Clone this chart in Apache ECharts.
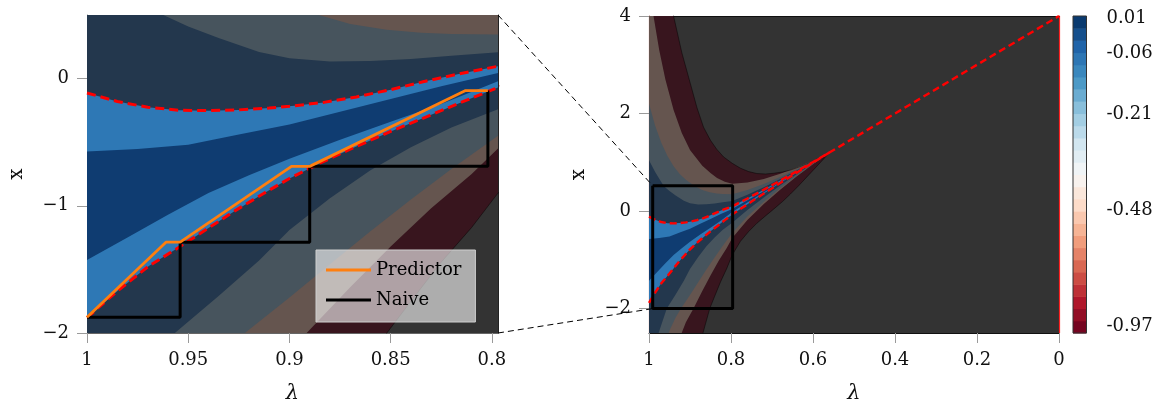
<!DOCTYPE html>
<html><head><meta charset="utf-8">
<script src="https://cdn.jsdelivr.net/npm/echarts@6/dist/echarts.min.js"></script>
<style>html,body{margin:0;padding:0;background:#fff}#c{width:1163px;height:403px}</style>
</head><body><div id="c"></div>
<script>
// ---------- tick labels ----------
const lamTicksLeft = [1, 0.95, 0.9, 0.85, 0.8];
const xTicksLeft = [-2, -1, 0];
const lamTicksRight = [1, 0.8, 0.6, 0.4, 0.2, 0];
const xTicksRight = [-2, 0, 2, 4];
const cbTickLabels = ['0.01', '-0.06', '-0.21', '-0.48', '-0.97'];
const cbTickPos = [25.8, 22.9, 17.9, 10.1, 0.55];
const cbCells = [0,1,2,3,4,5,6,7,8,9,10,11,12,13,14,15,16,17,18,19,20,21,22,23,24,25];

// ---------- contour band boundaries [lambda, x] ----------
const upperRed = [[1,-0.113],[0.985,-0.18],[0.97,-0.225],[0.955,-0.248],[0.94,-0.252],[0.925,-0.246],[0.91,-0.232],[0.9,-0.218],[0.883,-0.187],[0.867,-0.144],[0.85,-0.087],[0.834,-0.025],[0.817,0.035],[0.797,0.097],[0.76,0.257],[0.72,0.439],[0.68,0.625],[0.64,0.814],[0.6,1.006],[0.56,1.2]];
const centreLine = [[0.56,1.2],[0.4,2.0],[0.2,3.0],[0,4.0]];
const lowerRed = [[1,-1.88],[0.985,-1.67],[0.97,-1.48],[0.954,-1.32],[0.94,-1.175],[0.927,-1.04],[0.913,-0.905],[0.9,-0.785],[0.885,-0.665],[0.87,-0.555],[0.85,-0.415],[0.83,-0.285],[0.815,-0.185],[0.797,-0.07],[0.76,0.14],[0.72,0.36],[0.68,0.575],[0.64,0.786],[0.6,0.994],[0.56,1.2]];
const darkUpper = [[1,-0.573],[0.975,-0.553],[0.95,-0.52],[0.925,-0.44],[0.9,-0.36],[0.875,-0.26],[0.85,-0.16],[0.825,-0.06],[0.797,0.045],[0.76,0.221],[0.72,0.414],[0.68,0.609],[0.64,0.805],[0.6,1.002],[0.56,1.2]];
const darkLower = [[1,-1.427],[0.98,-1.25],[0.96,-1.07],[0.94,-0.9],[0.92,-0.76],[0.9,-0.63],[0.875,-0.48],[0.85,-0.34],[0.825,-0.2],[0.797,-0.021],[0.76,0.175],[0.72,0.383],[0.68,0.589],[0.64,0.794],[0.6,0.997],[0.56,1.2]];
const navyUpper = [[1,1.04],[0.985,0.8],[0.972,0.62],[0.963,0.505],[0.95,0.41],[0.935,0.32],[0.915,0.21],[0.9,0.16],[0.88,0.135],[0.86,0.138],[0.84,0.155],[0.82,0.18],[0.797,0.207],[0.76,0.333],[0.72,0.489],[0.68,0.657],[0.64,0.832],[0.6,1.013],[0.56,1.2]];
const navyLower = [[1,-3.3],[0.9766,-2.5],[0.9566,-2.0],[0.935,-1.71],[0.915,-1.43],[0.9,-1.19],[0.88,-0.94],[0.86,-0.72],[0.84,-0.54],[0.82,-0.385],[0.797,-0.24],[0.76,0.021],[0.72,0.28],[0.68,0.523],[0.64,0.757],[0.6,0.982],[0.56,1.2]];
const slateUpper = [[1,2.2],[0.985,1.75],[0.97,1.4],[0.955,1.13],[0.94,0.92],[0.925,0.76],[0.91,0.64],[0.895,0.55],[0.8866,0.505],[0.87,0.43],[0.852,0.385],[0.835,0.36],[0.82,0.35],[0.797,0.347],[0.76,0.43],[0.72,0.555],[0.68,0.7],[0.64,0.856],[0.6,1.023],[0.56,1.2]];
const slateLower = [[1,-4.2],[0.97,-3.0],[0.95,-2.45],[0.935,-2.18],[0.922,-2.0],[0.9,-1.72],[0.88,-1.46],[0.86,-1.2],[0.84,-0.95],[0.82,-0.71],[0.797,-0.45],[0.76,-0.112],[0.72,0.191],[0.68,0.467],[0.64,0.724],[0.6,0.969],[0.56,1.2]];
const brownUpper = [[1,4.6],[0.989,4.0],[0.975,3.3],[0.96,2.7],[0.94,2.07],[0.92,1.6],[0.9,1.25],[0.87,0.93],[0.85,0.78],[0.834,0.68],[0.815,0.6],[0.797,0.56],[0.76,0.585],[0.72,0.66],[0.68,0.765],[0.64,0.893],[0.6,1.038],[0.56,1.2]];
const brownLower = [[1,-5.0],[0.95,-3.3],[0.925,-2.6],[0.91,-2.28],[0.8915,-2.0],[0.87,-1.64],[0.85,-1.32],[0.83,-1.02],[0.81,-0.75],[0.797,-0.55],[0.76,-0.182],[0.72,0.144],[0.68,0.437],[0.64,0.707],[0.6,0.962],[0.56,1.2]];
const maroonUpper = [[1,9.0],[0.96,5.2],[0.94,4.0],[0.92,3.25],[0.899,2.61],[0.883,2.12],[0.867,1.72],[0.85,1.45],[0.835,1.27],[0.818,1.11],[0.797,0.98],[0.777,0.88],[0.757,0.81],[0.737,0.77],[0.716,0.76],[0.696,0.775],[0.675,0.8],[0.655,0.84],[0.635,0.9],[0.615,0.97],[0.595,1.05],[0.574,1.13],[0.56,1.2]];
const maroonLower = [[1,-9.0],[0.92,-4.5],[0.89,-3.1],[0.87,-2.55],[0.8519,-2.0],[0.84,-1.75],[0.8256,-1.453],[0.81,-1.17],[0.797,-0.9],[0.777,-0.62],[0.757,-0.42],[0.737,-0.25],[0.716,-0.1],[0.696,0.04],[0.675,0.19],[0.655,0.35],[0.635,0.52],[0.615,0.7],[0.595,0.88],[0.574,1.07],[0.56,1.2]];

// ---------- step paths ----------
const predictor = [[1,-1.876],[0.961,-1.286],[0.954,-1.286],[0.899,-0.69],[0.89,-0.69],[0.813,-0.094],[0.802,-0.094]];
const naive = [[1,-1.876],[0.954,-1.876],[0.954,-1.286],[0.89,-1.286],[0.89,-0.69],[0.802,-0.69],[0.802,-0.094]];
const zoomBox = [[0.991,0.52],[0.796,0.52],[0.796,-2.0],[0.991,-2.0],[0.991,0.52]];

// ---------- styles ----------
const FONT = 'DejaVu Serif';
const C = {grey:'#333333', maroon:'#38151e', brown:'#65554f', slate:'#47545d', navy:'#23374d', lb:'#2e78b5', db:'#0f3c71'};
const rdbu = ['#67001f','#b2182b','#d6604d','#f4a582','#fddbc7','#f7f7f7','#d1e5f0','#92c5de','#4393c3','#2166ac','#053061'];
function hex(c){return [parseInt(c.slice(1,3),16),parseInt(c.slice(3,5),16),parseInt(c.slice(5,7),16)];}
function cmap(t){const s=t*10,i=Math.min(9,Math.floor(s)),f=s-i,a=hex(rdbu[i]),b=hex(rdbu[i+1]);
  return 'rgb('+a.map((v,k)=>Math.round(v+(b[k]-v)*f)).join(',')+')';}
const cbColors = cbCells.map(i => cmap((i+0.5)/cbCells.length));

const chart = echarts.init(document.getElementById('c'));

function band(gi, upper, lower, color){
  const pts = upper.concat(lower.slice().reverse());
  return {type:'custom', xAxisIndex:gi, yAxisIndex:gi, clip:true, silent:true, data:pts,
    renderItem:function(params, api){
      if (params.dataIndex !== 0) return null;
      return {type:'polygon', shape:{points:pts.map(p=>api.coord(p))}, style:{fill:color}};
    }};
}
function line(gi, data, color, width, dash, name){
  return {type:'line', name:name, xAxisIndex:gi, yAxisIndex:gi, data:data, symbol:'none', showSymbol:false, clip:true, silent:true,
    lineStyle:{color:color, width:width, type:dash||'solid'}, itemStyle:{color:color}, animation:false};
}
function panel(gi, redW, dash){
  return [
    band(gi, maroonUpper, maroonLower, C.maroon),
    band(gi, brownUpper, brownLower, C.brown),
    band(gi, slateUpper, slateLower, C.slate),
    band(gi, navyUpper, navyLower, C.navy),
    band(gi, upperRed, lowerRed, C.lb),
    band(gi, darkUpper, darkLower, C.db),
    line(gi, maroonUpper, 'rgba(0,0,0,0.55)', 0.8),
    line(gi, maroonLower, 'rgba(0,0,0,0.55)', 0.8),
    line(gi, upperRed.concat(centreLine.slice(1)), '#ff0000', redW, dash),
    line(gi, lowerRed, '#ff0000', redW, dash)
  ];
}
const minus = v => (v < 0 ? '\u2212' + Math.abs(v) : String(v));
const tickStyle = {show:true, length:10, lineStyle:{color:'#9a9a9a', width:1}};
const labelStyle = {fontFamily:FONT, fontSize:18, color:'#111'};

const series = [].concat(
  panel(0, 3, [9,5]),
  [line(0, naive, '#000000', 3, 'solid', 'Naive'), line(0, predictor, '#ff7f0e', 2.8, 'solid', 'Predictor')],
  panel(1, 2.4, [7,4]),
  [line(1, zoomBox, '#000000', 3, 'solid')],
  [{type:'custom', xAxisIndex:2, yAxisIndex:2, silent:true, data:cbCells.map(i=>[0,i]),
    renderItem:function(params, api){
      const i = api.value(1), p0 = api.coord([0,i]), p1 = api.coord([1,i+1]);
      return {type:'rect', shape:{x:p0[0], y:p1[1], width:p1[0]-p0[0], height:p0[1]-p1[1]+0.5}, style:{fill:cbColors[i]}};
    }},
   {type:'custom', xAxisIndex:2, yAxisIndex:2, silent:true, data:[[0,0]],
    renderItem:function(params){
      const cs = params.coordSys;
      return {type:'rect', shape:{x:cs.x, y:cs.y, width:cs.width, height:cs.height}, style:{fill:'none', stroke:'#333', lineWidth:1}};
    }}]
);

const gridBase = {containLabel:false, outerBoundsMode:'none'};
const option = {
  animation:false,
  backgroundColor:'#ffffff',
  grid:[
    Object.assign({left:87, top:15, width:411, height:318, show:true, backgroundColor:C.grey, borderWidth:0}, gridBase),
    Object.assign({left:649, top:16, width:410, height:317, show:true, backgroundColor:C.grey, borderWidth:0}, gridBase),
    Object.assign({left:1073, top:16, width:13.5, height:317, show:false}, gridBase)
  ],
  legend:{data:[{name:'Predictor', icon:'rect'},{name:'Naive', icon:'rect'}], orient:'vertical', left:316, top:250,
    backgroundColor:'rgba(255,255,255,0.6)', borderColor:'#cfcfcf', borderWidth:1, borderRadius:0,
    padding:[10,14,12,10], itemWidth:45, itemHeight:3, itemGap:10, selectedMode:false,
    textStyle:{fontFamily:FONT, fontSize:18, color:'#000', lineHeight:20, height:20, verticalAlign:'middle'}},
  xAxis:[
    {gridIndex:0, type:'value', min:0.797, max:1, inverse:true, name:'\u03bb', nameLocation:'middle', nameGap:50,
      nameTextStyle:{fontFamily:FONT, fontSize:21, fontStyle:'italic', color:'#111'},
      axisLine:{show:true, onZero:false, lineStyle:{color:'#666', width:1}},
      axisTick:Object.assign({customValues:lamTicksLeft}, tickStyle),
      axisLabel:Object.assign({customValues:lamTicksLeft, margin:18, formatter:v=>String(v)}, labelStyle),
      splitLine:{show:false}},
    {gridIndex:1, type:'value', min:0, max:1, inverse:true, name:'\u03bb', nameLocation:'middle', nameGap:50,
      nameTextStyle:{fontFamily:FONT, fontSize:21, fontStyle:'italic', color:'#111'},
      axisLine:{show:true, onZero:false, lineStyle:{color:'#111', width:1}},
      axisTick:Object.assign({customValues:lamTicksRight}, tickStyle),
      axisLabel:Object.assign({customValues:lamTicksRight, margin:18, formatter:v=>String(v)}, labelStyle),
      splitLine:{show:false}},
    {gridIndex:2, type:'value', min:0, max:1, show:false},
    {gridIndex:1, type:'value', min:0, max:1, inverse:true, position:'top',
      axisLine:{show:true, onZero:false, lineStyle:{color:'#111', width:1}}, axisTick:{show:false}, axisLabel:{show:false}, splitLine:{show:false}}
  ],
  yAxis:[
    {gridIndex:0, type:'value', min:-2, max:0.5, name:'x', nameLocation:'middle', nameGap:60,
      nameTextStyle:{fontFamily:FONT, fontSize:20, color:'#111'},
      axisLine:{show:true, onZero:false, lineStyle:{color:'#888', width:1}},
      axisTick:Object.assign({customValues:xTicksLeft}, tickStyle),
      axisLabel:Object.assign({customValues:xTicksLeft, margin:18, formatter:minus}, labelStyle),
      splitLine:{show:false}},
    {gridIndex:1, type:'value', min:-2.5, max:4, name:'x', nameLocation:'middle', nameGap:60,
      nameTextStyle:{fontFamily:FONT, fontSize:20, color:'#111'},
      axisLine:{show:true, onZero:false, lineStyle:{color:'#b5564e', width:1.2}},
      axisTick:Object.assign({customValues:xTicksRight}, tickStyle),
      axisLabel:Object.assign({customValues:xTicksRight, margin:18, formatter:minus}, labelStyle),
      splitLine:{show:false}},
    {gridIndex:2, type:'value', min:0, max:26, position:'right',
      axisLine:{show:false}, splitLine:{show:false},
      axisTick:{show:true, customValues:cbTickPos, length:11, lineStyle:{color:'#888', width:1}},
      axisLabel:Object.assign({customValues:cbTickPos, margin:20, formatter:function(v){
        let best=0; cbTickPos.forEach((p,k)=>{ if (Math.abs(p-v) < Math.abs(cbTickPos[best]-v)) best=k; }); return cbTickLabels[best]; }}, labelStyle)},
    {gridIndex:0, type:'value', min:-2, max:0.5, position:'right',
      axisLine:{show:true, onZero:false, lineStyle:{color:'#222', width:1}}, axisTick:{show:false}, axisLabel:{show:false}, splitLine:{show:false}},
    {gridIndex:1, type:'value', min:-2.5, max:4, position:'right',
      axisLine:{show:true, onZero:false, lineStyle:{color:'#ff2020', width:1.2}}, axisTick:{show:false}, axisLabel:{show:false}, splitLine:{show:false}}
  ],
  series:series
};
chart.setOption(option);

// connector lines between the zoomed panel and the box in the full view
const a1 = chart.convertToPixel({gridIndex:0}, [0.797, 0.5]);
const a2 = chart.convertToPixel({gridIndex:0}, [0.797, -2]);
const b1 = chart.convertToPixel({gridIndex:1}, zoomBox[0]);
const b2 = chart.convertToPixel({gridIndex:1}, zoomBox[3]);
chart.setOption({graphic:[
  {type:'line', z:100, silent:true, shape:{x1:a1[0], y1:a1[1], x2:b1[0], y2:b1[1]}, style:{stroke:'#000', lineWidth:1, lineDash:[6,4]}},
  {type:'line', z:100, silent:true, shape:{x1:a2[0], y1:a2[1], x2:b2[0], y2:b2[1]}, style:{stroke:'#000', lineWidth:1, lineDash:[6,4]}}
]});
</script></body></html>
